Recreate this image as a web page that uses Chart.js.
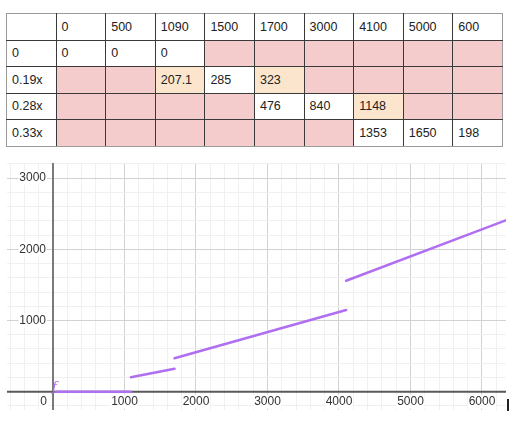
<!DOCTYPE html>
<html>
<head>
<meta charset="utf-8">
<script src="https://cdn.jsdelivr.net/npm/chart.js@4.4.1/dist/chart.umd.min.js"></script>
<style>
  html, body { margin: 0; padding: 0; background: #fff; width: 512px; height: 423px; overflow: hidden; }
  #tbl { position: absolute; left: 6px; top: 13px; width: 497px; border-collapse: collapse; table-layout: fixed;
         font-family: "Liberation Sans", Arial, sans-serif; font-size: 12.5px; color: #222; border: 1px solid #9a9a9a; }
  #tbl td { border: 1px solid #3a3a3a; height: 25.5px; padding: 0 0 0 5px; vertical-align: middle; white-space: nowrap; }
  #tbl tr:first-child td { border-top-color: #9a9a9a; }
  #tbl tr:last-child td { border-bottom-color: #9a9a9a; }
  #tbl td:first-child { border-left-color: #9a9a9a; }
  #tbl td:last-child { border-right-color: #9a9a9a; }
  #wrap { position: absolute; left: 0; top: 150px; width: 512px; height: 273px; }
  #cursor { position: absolute; left: 507px; top: 399px; width: 2px; height: 12px; background: #222; }
</style>
</head>
<body>
<table id="tbl"></table>
<div id="wrap"><canvas id="c" width="512" height="273"></canvas></div>
<div id="cursor"></div>
<script>
// ---- table data ----
const colHeaders = ['', '0', '500', '1090', '1500', '1700', '3000', '4100', '5000', '600'];
const rowLabels = ['0', '0.19x', '0.28x', '0.33x'];
const rowValues = [
  ['0', '0', '0', '', '', '', '', '', ''],
  ['', '', '207.1', '285', '323', '', '', '', ''],
  ['', '', '', '', '476', '840', '1148', '', ''],
  ['', '', '', '', '', '', '1353', '1650', '198']
];
// cell state: 'v' = value, 'x' = out of range, 'e' = range edge
const rowStates = [
  ['v', 'v', 'v', 'x', 'x', 'x', 'x', 'x', 'x'],
  ['x', 'x', 'e', 'v', 'e', 'x', 'x', 'x', 'x'],
  ['x', 'x', 'x', 'x', 'v', 'v', 'e', 'x', 'x'],
  ['x', 'x', 'x', 'x', 'x', 'x', 'v', 'v', 'v']
];

// ---- chart data ----
const seg0X = [40, 1090],   seg0Y = [0, 0];
const seg1X = [1090, 1700], seg1Y = [202, 323];
const seg2X = [1700, 4100], seg2Y = [470, 1148];
const seg3X = [4100, 6400], seg3Y = [1558, 2432];
const xTickLabels = [0, 1000, 2000, 3000, 4000, 5000, 6000];
const yTickLabels = [1000, 2000, 3000];
const curveName = 'f';

// build table
const stateFill = { v: '#ffffff', x: '#f4cccc', e: '#fce5cd' };
const tbl = document.getElementById('tbl');
const hr = document.createElement('tr');
colHeaders.forEach(h => { const td = document.createElement('td'); td.textContent = h; hr.appendChild(td); });
tbl.appendChild(hr);
rowLabels.forEach((lab, r) => {
  const tr = document.createElement('tr');
  const th = document.createElement('td'); th.textContent = lab; tr.appendChild(th);
  rowValues[r].forEach((v, c) => {
    const td = document.createElement('td');
    td.textContent = v;
    td.style.background = stateFill[rowStates[r][c]];
    tr.appendChild(td);
  });
  tbl.appendChild(tr);
});

const purple = '#b06ef0';
const toPts = (xs, ys) => xs.map((x, i) => ({ x, y: ys[i] }));
const segs = [[seg0X, seg0Y], [seg1X, seg1Y], [seg2X, seg2Y], [seg3X, seg3Y]];

const desmos = {
  id: 'desmos',
  beforeDatasetsDraw(chart) {
    const { ctx, chartArea: a, scales: { x, y } } = chart;
    const x0 = x.getPixelForValue(0), y0 = y.getPixelForValue(0);
    ctx.save();
    ctx.strokeStyle = '#7a7a7a';
    ctx.lineWidth = 2;
    ctx.beginPath(); ctx.moveTo(x0, a.top); ctx.lineTo(x0, a.bottom); ctx.stroke();
    ctx.strokeStyle = '#5a5a5a';
    ctx.beginPath(); ctx.moveTo(a.left, y0); ctx.lineTo(a.right, y0); ctx.stroke();
    ctx.restore();
  },
  afterDatasetsDraw(chart) {
    const { ctx, scales: { x, y } } = chart;
    const x0 = x.getPixelForValue(0), y0 = y.getPixelForValue(0);
    ctx.save();
    ctx.font = '12px "Liberation Sans", Arial, sans-serif';
    ctx.textBaseline = 'middle';
    const lab = (t, px, py, align) => {
      ctx.textAlign = align;
      const w = ctx.measureText(t).width;
      const lx = align === 'center' ? px - w / 2 : (align === 'right' ? px - w : px);
      ctx.fillStyle = 'rgba(255,255,255,0.9)';
      ctx.fillRect(lx - 1, py - 7, w + 2, 14);
      ctx.fillStyle = '#333';
      ctx.fillText(t, px, py);
    };
    xTickLabels.forEach(v => {
      if (v === 0) lab(String(v), x0 - 6, y0 + 10, 'right');
      else lab(String(v), x.getPixelForValue(v), y0 + 10, 'center');
    });
    yTickLabels.forEach(v => lab(String(v), x0 - 7, y.getPixelForValue(v), 'right'));
    ctx.fillStyle = purple;
    ctx.font = 'italic 13px "DejaVu Serif", "Liberation Serif", serif';
    ctx.textAlign = 'left';
    ctx.textBaseline = 'alphabetic';
    ctx.fillText(curveName, x0 - 1, y0 - 1);
    ctx.restore();
  }
};

const gridCfg = {
  drawTicks: false,
  color: c => (c.tick && c.tick.value === 0) ? 'rgba(0,0,0,0)' : (c.tick && c.tick.value % 1000 === 0 ? '#d2d2d2' : '#f0f0f0'),
  lineWidth: 1
};
const stepTicks = scale => {
  const t = [];
  for (let v = Math.ceil(scale.min / 200) * 200; v <= scale.max; v += 200) t.push({ value: v });
  scale.ticks = t;
};

new Chart(document.getElementById('c'), {
  type: 'scatter',
  data: {
    datasets: segs.map(([xs, ys]) => ({
      data: toPts(xs, ys),
      showLine: true,
      borderColor: purple,
      borderWidth: 2.5,
      borderCapStyle: 'round',
      pointRadius: 0,
      fill: false
    }))
  },
  options: {
    responsive: false,
    animation: false,
    events: [],
    layout: { padding: { left: 7, right: 6, top: 13, bottom: 13 } },
    plugins: { legend: { display: false }, tooltip: { enabled: false } },
    scales: {
      x: { type: 'linear', min: -643, max: 6336, afterBuildTicks: stepTicks,
           ticks: { display: false }, grid: gridCfg, border: { display: false } },
      y: { type: 'linear', min: -257, max: 3212, afterBuildTicks: stepTicks,
           ticks: { display: false }, grid: gridCfg, border: { display: false } }
    }
  },
  plugins: [desmos]
});
</script>
</body>
</html>
